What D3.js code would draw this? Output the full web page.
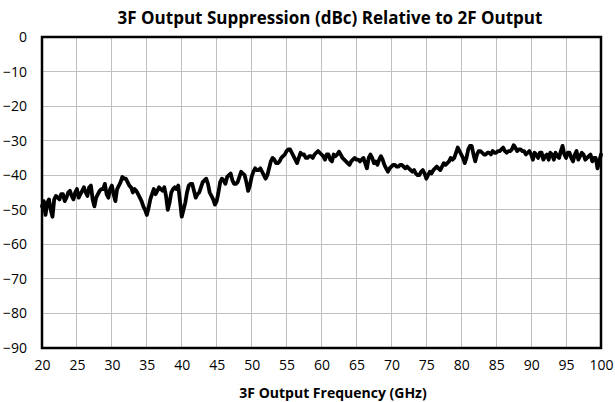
<!DOCTYPE html>
<html><head><meta charset="utf-8">
<script src="https://cdn.jsdelivr.net/npm/d3@7"></script>
<style>
html,body{margin:0;padding:0;background:#fff;}
svg{display:block;font-family:"Open Sans",sans-serif;}
</style></head>
<body><svg id="c" width="615" height="402"></svg>
<script>
const titleText = "3F Output Suppression (dBc) Relative to 2F Output";
const xAxisTitle = "3F Output Frequency (GHz)";
const xTicks = [20,25,30,35,40,45,50,55,60,65,70,75,80,85,90,95,100];
const yTicks = [0,-10,-20,-30,-40,-50,-60,-70,-80,-90];
// samples on the half-GHz grid
const freqGHz = [20,20.5,21,21.5,22,22.5,23,23.5,24,24.5,25,25.5,26,26.5,27,27.5,28,28.5,29,29.5,
30,30.5,31,31.5,32,32.5,33,33.5,34,34.5,35,35.5,36,36.5,37,37.5,38,38.5,39,39.5,
40,40.5,41,41.5,42,42.5,43,43.5,44,44.5,45,45.5,46,46.5,47,47.5,48,48.5,49,49.5,
50,50.5,51,51.5,52,52.5,53,53.5,54,54.5,55,55.5,56,56.5,57,57.5,58,58.5,59,59.5,
60,60.5,61,61.5,62,62.5,63,63.5,64,64.5,65,65.5,66,66.5,67,67.5,68,68.5,69,69.5,
70,70.5,71,71.5,72,72.5,73,73.5,74,74.5,75,75.5,76,76.5,77,77.5,78,78.5,79,79.5,
80,80.5,81,81.5,82,82.5,83,83.5,84,84.5,85,85.5,86,86.5,87,87.5,88,88.5,89,89.5,
90,90.5,91,91.5,92,92.5,93,93.5,94,94.5,95,95.5,96,96.5,97,97.5,98,98.5,99,99.5,100];
const suppressionDbc = [-49,-51.5,-47,-52,-46,-47,-45.5,-46.5,-44.5,-47,-44,-45.5,-43.5,-46,-43,-49,-45.5,-44,-42.5,-46.5,
-43,-47.5,-43,-40.5,-41,-43,-45,-44.5,-46.5,-49,-51.5,-47,-44,-44.5,-44,-43.5,-50,-45,-43.5,-43,
-52,-48,-43,-42.5,-46.5,-45,-42,-41,-45,-47,-47.5,-42,-41.5,-40.5,-39.5,-42.5,-42,-39,-40,-44.5,
-40.5,-38,-38.5,-39,-41,-38,-35,-36.5,-36,-34.5,-33,-32.5,-34.5,-36.5,-33.5,-34,-35,-34.5,-34,-33,
-34,-35.5,-34,-36,-34.5,-33.2,-35,-36,-37,-35.5,-35.5,-36,-35,-38,-34,-36.5,-37,-34.5,-37,-39,
-37.5,-37,-37.5,-37,-38,-38,-39,-39.5,-40,-38.5,-41,-39,-38.5,-37.5,-38.5,-36.5,-36.5,-35,-35,-32,
-34,-36.5,-32.5,-31.5,-36,-33,-33.5,-34,-33.5,-33,-33.5,-33,-32,-33.5,-33,-31.3,-33,-32.5,-33,-33.5,
-34,-33.5,-35,-33.5,-34.5,-35.5,-34,-33.5,-35,-31.5,-35,-33.5,-36,-33,-34.5,-34,-35,-34,-35,-38,-34];
// in-between samples (quarter points)
const freqMidGHz = [20.25,20.75,21.25,21.75,22.25,22.75,23.25,23.75,24.25,24.75,25.25,25.75,26.25,26.75,27.25,27.75,28.25,28.75,29.25,29.75,
30.25,30.75,31.25,31.75,32.25,32.75,33.25,33.75,34.25,34.75,35.25,35.75,36.25,36.75,37.25,37.75,38.25,38.75,39.25,39.75,
40.25,40.75,41.25,41.75,42.25,42.75,43.25,43.75,44.25,44.75,45.25,45.75,46.25,46.75,47.25,47.75,48.25,48.75,49.25,49.75,
50.25,50.75,51.25,51.75,52.25,52.75,53.25,53.75,54.25,54.75,55.25,55.75,56.25,56.75,57.25,57.75,58.25,58.75,59.25,59.75,
60.25,60.75,61.25,61.75,62.25,62.75,63.25,63.75,64.25,64.75,65.25,65.75,66.25,66.75,67.25,67.75,68.25,68.75,69.25,69.75,
70.25,70.75,71.25,71.75,72.25,72.75,73.25,73.75,74.25,74.75,75.25,75.75,76.25,76.75,77.25,77.75,78.25,78.75,79.25,79.75,
80.25,80.75,81.25,81.75,82.25,82.75,83.25,83.75,84.25,84.75,85.25,85.75,86.25,86.75,87.25,87.75,88.25,88.75,89.25,89.75,
90.25,90.75,91.25,91.75,92.25,92.75,93.25,93.75,94.25,94.75,95.25,95.75,96.25,96.75,97.25,97.75,98.25,98.75,99.25,99.75];
const suppressionMidDbc = [-47.5,-48,-50,-47,-46.5,-45.5,-47.5,-45,-46,-45,-46.5,-44.5,-45,-43.5,-47,-46.5,-44.5,-44,-45.5,-44,
-45.5,-44,-42,-41,-42,-43.5,-44,-45.5,-47.5,-50,-49.5,-45.5,-45.5,-43.5,-44.5,-46,-48,-44,-44,-47.5,
-50,-45,-42.5,-44.5,-45.5,-43.5,-41.5,-42.5,-46,-48.5,-45,-41,-42.5,-40,-41.5,-42.5,-40.5,-39.5,-42,-43,
-39,-38.5,-38,-40,-40,-36,-35.5,-36.5,-35,-34,-32.5,-33.5,-35.5,-35,-34,-35,-34.5,-35,-33.5,-33.5,
-34.5,-34,-35.5,-34,-34,-34,-35.5,-36.5,-36,-35,-35.5,-35.5,-36.5,-35,-35,-36,-35.5,-35.5,-38,-38,
-37,-37.5,-37,-37.5,-37.5,-38.5,-38.5,-40,-39,-39.5,-40,-39.5,-38,-38,-37.5,-37,-36,-35.5,-33.5,-33,
-35,-35,-31.5,-34,-34,-33,-34,-33.5,-34,-33.5,-33,-32.5,-33,-33,-32.5,-32,-32.5,-33,-34,-33,
-35.5,-34,-33.5,-35.5,-34,-33.5,-35.5,-34.5,-33,-34,-33.5,-35,-34,-35.5,-33.5,-35.5,-34.5,-36,-35,-36];

const svg = d3.select("#c");
const L = 42, R = 601, T = 37, B = 348;
const x = d3.scaleLinear().domain([20,100]).range([L,R]);
const y = d3.scaleLinear().domain([-90,0]).range([B,T]);

// gridlines
svg.append("g").selectAll("line").data(xTicks).join("line")
  .attr("x1",d=>x(d)).attr("x2",d=>x(d)).attr("y1",T).attr("y2",B)
  .attr("stroke","#bfbfbf").attr("stroke-width",1).attr("shape-rendering","crispEdges");
svg.append("g").selectAll("line").data(yTicks).join("line")
  .attr("x1",L).attr("x2",R).attr("y1",d=>y(d)).attr("y2",d=>y(d))
  .attr("stroke","#bfbfbf").attr("stroke-width",1).attr("shape-rendering","crispEdges");

// axis labels
const xa = svg.append("g").attr("transform",`translate(0,${B})`)
  .call(d3.axisBottom(x).tickValues(xTicks).tickSize(0).tickPadding(12).tickFormat(d3.format("d")));
xa.select(".domain").remove();
xa.selectAll("text").attr("font-size",14).attr("fill","#000").attr("font-family","'Open Sans',sans-serif");
const ya = svg.append("g").attr("transform",`translate(${L},0)`)
  .call(d3.axisLeft(y).tickValues(yTicks).tickSize(0).tickPadding(15).tickFormat(d3.format("d")));
ya.select(".domain").remove();
ya.selectAll("text").attr("font-size",14).attr("fill","#000").attr("font-family","'Open Sans',sans-serif");

// data line
const pts = freqGHz.map((f,i)=>[f,suppressionDbc[i]])
  .concat(freqMidGHz.map((f,i)=>[f,suppressionMidDbc[i]]))
  .sort((a,b)=>a[0]-b[0]);
svg.append("path").datum(pts)
  .attr("fill","none").attr("stroke","#000").attr("stroke-width",3.8)
  .attr("stroke-linejoin","round").attr("stroke-linecap","round")
  .attr("d", d3.line().x(d=>x(d[0])).y(d=>y(d[1])));

// frame
svg.append("rect").attr("x",L).attr("y",T).attr("width",R-L).attr("height",B-T)
  .attr("fill","none").attr("stroke","#000").attr("stroke-width",2.5);

// titles
svg.append("text").attr("x",330).attr("y",24).attr("text-anchor","middle")
  .attr("font-size",17).attr("font-weight","bold").attr("fill","#000").text(titleText);
svg.append("text").attr("x",333).attr("y",398).attr("text-anchor","middle")
  .attr("font-size",14).attr("font-weight","bold").attr("fill","#000").text(xAxisTitle);
</script></body></html>
